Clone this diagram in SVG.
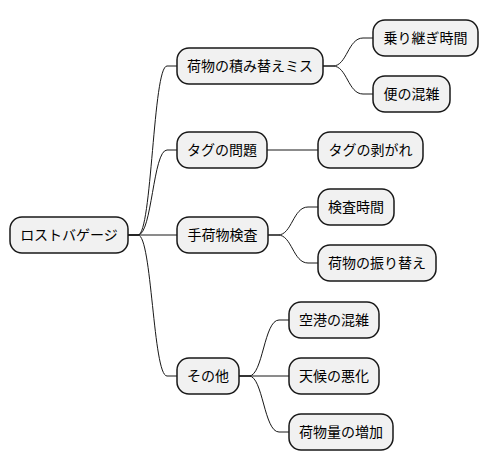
<svg xmlns="http://www.w3.org/2000/svg" width="488" height="471" viewBox="0 0 488 471">
<style>
.n rect{fill:#F1F1F1;stroke:#181818;stroke-width:1.5}
.n text{font-family:"Noto Sans CJK JP","Noto Sans",sans-serif;font-size:14px;fill:#000;text-anchor:middle}
#edges path{fill:none;stroke:#181818;stroke-width:1}
</style>
<rect width="488" height="471" fill="#FFFFFF"/>
<g id="edges">
<path d="M128,235 L138,235 C152,235 153,66 167,66 L177,66"/>
<path d="M128,235 L138,235 C152,235 153,150 167,150 L177,150"/>
<path d="M128,235 L177,235"/>
<path d="M128,235 L138,235 C152,235 153,376 167,376 L177,376"/>
<path d="M323,66 L333,66 C347,66 348,38 363,38 L373,38"/>
<path d="M323,66 L333,66 C347,66 348,94 363,94 L373,94"/>
<path d="M267,150 L318,150"/>
<path d="M268,235 L278,235 C292,235 293,207 308,207 L318,207"/>
<path d="M268,235 L278,235 C292,235 293,263 308,263 L318,263"/>
<path d="M239,376 L249,376 C263,376 264,320 279,320 L289,320"/>
<path d="M239,376 L289,376"/>
<path d="M239,376 L249,376 C263,376 264,432 279,432 L289,432"/>
</g>
<g id="root" class="n"><rect x="10" y="217" width="118" height="36" rx="12"/><text x="69" y="240">ロストバゲージ</text></g>
<g id="n1" class="n"><rect x="177" y="48" width="146" height="36" rx="12"/><text x="250" y="71">荷物の積み替えミス</text></g>
<g id="n2" class="n"><rect x="177" y="132" width="90" height="36" rx="12"/><text x="222" y="155">タグの問題</text></g>
<g id="n3" class="n"><rect x="177" y="217" width="91" height="36" rx="12"/><text x="222.5" y="240">手荷物検査</text></g>
<g id="n4" class="n"><rect x="177" y="358" width="62" height="36" rx="12"/><text x="208" y="381">その他</text></g>
<g id="n11" class="n"><rect x="373" y="20" width="105" height="36" rx="12"/><text x="425.5" y="43">乗り継ぎ時間</text></g>
<g id="n12" class="n"><rect x="373" y="76" width="77" height="36" rx="12"/><text x="411.5" y="99">便の混雑</text></g>
<g id="n21" class="n"><rect x="318" y="132" width="105" height="36" rx="12"/><text x="370.5" y="155">タグの剥がれ</text></g>
<g id="n31" class="n"><rect x="318" y="189" width="76" height="36" rx="12"/><text x="356" y="212">検査時間</text></g>
<g id="n32" class="n"><rect x="318" y="245" width="118" height="36" rx="12"/><text x="377" y="268">荷物の振り替え</text></g>
<g id="n41" class="n"><rect x="289" y="302" width="90" height="36" rx="12"/><text x="334" y="325">空港の混雑</text></g>
<g id="n42" class="n"><rect x="289" y="358" width="90" height="36" rx="12"/><text x="334" y="381">天候の悪化</text></g>
<g id="n43" class="n"><rect x="289" y="414" width="104" height="36" rx="12"/><text x="341" y="437">荷物量の増加</text></g>
</svg>
